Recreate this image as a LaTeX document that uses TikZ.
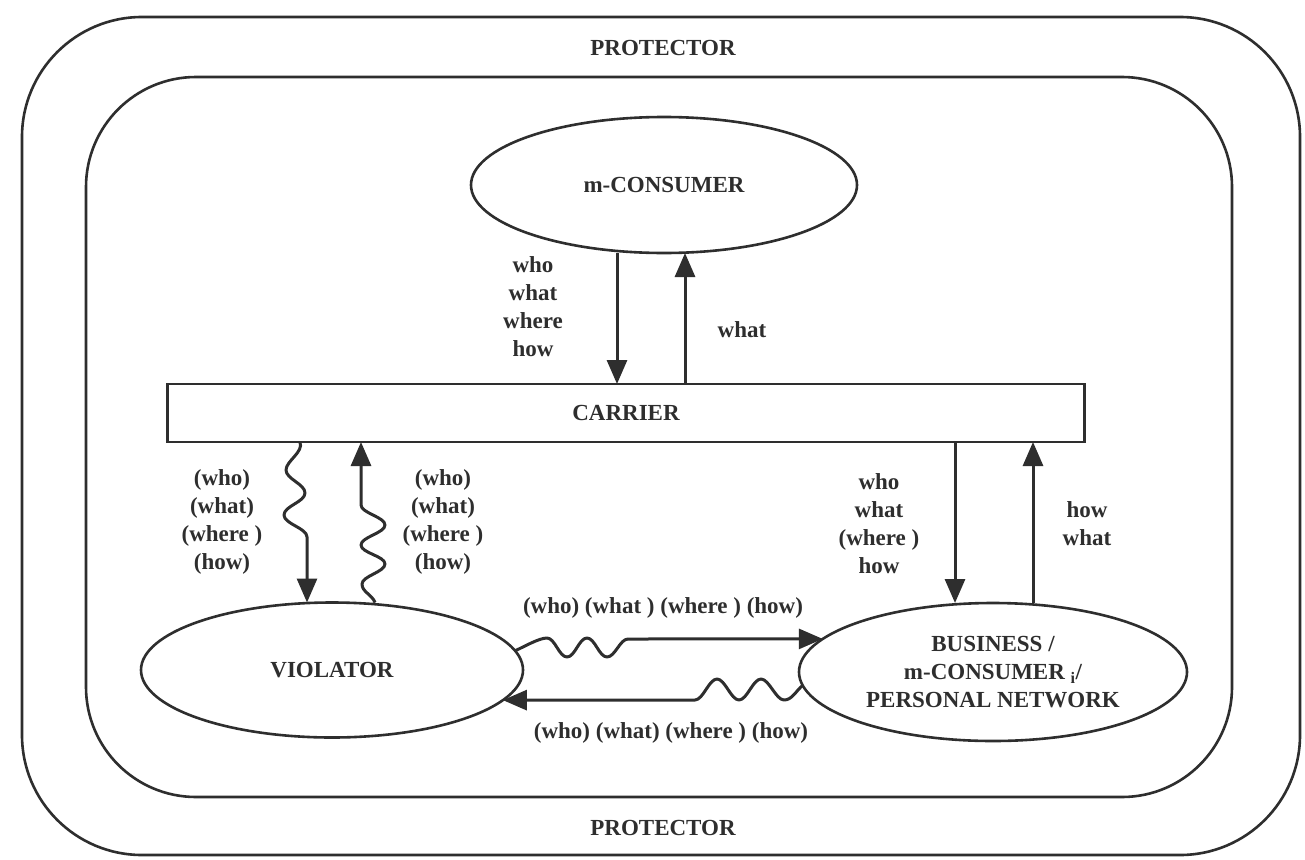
\documentclass[tikz,border=0pt]{standalone}
\usepackage{fontspec}
\setmainfont{Liberation Serif}
\usetikzlibrary{arrows.meta,shapes.geometric}
\definecolor{ink}{HTML}{2E2E2E}
\newcommand\lblfont{\fontsize{23}{28}\selectfont\bfseries}
\begin{document}
\begin{tikzpicture}[x=1pt,y=-1pt,
  frame/.style={draw=ink,line width=2.6pt,rounded corners=#1},
  ell/.style={ellipse,draw=ink,line width=2.6pt,inner sep=0pt,outer sep=0pt,font=\lblfont,align=center,text=ink},
  lbl/.style={font=\lblfont,align=center,inner sep=0pt,text=ink},
  arr/.style={draw=ink,line width=3pt,line join=round,-{Triangle[length=24pt,width=20pt]}},
]
\useasboundingbox (0,0) rectangle (1305,859);
\fill[white] (0,0) rectangle (1305,859);

% frames
\draw[frame=120pt] (22,17) rectangle (1300,855);
\draw[frame=110pt] (86,77) rectangle (1232,797);
\node[lbl] (ptop) at (663,48) {PROTECTOR};
\node[lbl] (pbot) at (663,828) {PROTECTOR};

% main nodes
\node[ell,minimum width=386pt,minimum height=136pt] (mcons) at (664,185) {m-CONSUMER};
\node[draw=ink,line width=2.6pt,minimum width=917pt,minimum height=58pt,font=\lblfont,text=ink,inner sep=0pt,outer sep=0pt] (carrier) at (626,413) {CARRIER};
\node[ell,minimum width=382pt,minimum height=135pt] (viol) at (332,670) {VIOLATOR};
\node[ell,minimum width=388pt,minimum height=138pt] (bus) at (993,672) {BUSINESS /\\m-CONSUMER \textsubscript{i}/\\PERSONAL NETWORK};

% helper coordinates
\coordinate (xa) at (617,0);
\coordinate (xb) at (685,0);
\coordinate (xc) at (300,0);
\coordinate (xs) at (375,0);
\coordinate (xe) at (955,0);
\coordinate (xf) at (1033,0);
% down wave (carrier -> violator)
\coordinate (d1) at (286,470);
\coordinate (d2) at (305,493);
\coordinate (d3) at (284,515);
\coordinate (d4) at (307,537);
% up wave (violator -> carrier)
\coordinate (u1) at (362,584);
\coordinate (u2) at (385,564);
\coordinate (u3) at (361,545);
\coordinate (u4) at (385,525);
\coordinate (u5) at (361,505);
% upper horizontal wave
\coordinate (a1) at (547,638);
\coordinate (a2) at (567,657);
\coordinate (a3) at (587,638);
\coordinate (a4) at (607,657);
\coordinate (a5) at (628,639);
% lower horizontal wave
\coordinate (b1) at (784,700);
\coordinate (b2) at (761,679);
\coordinate (b3) at (739,700);
\coordinate (b4) at (717,679);
\coordinate (b5) at (695,700);

% m-CONSUMER <-> CARRIER
\draw[arr] (xa |- mcons.south) -- (xa |- carrier.north);
\draw[arr] (xb |- carrier.north) -- (xb |- mcons.south);

% CARRIER <-> VIOLATOR (wavy)
\draw[arr] (xc |- carrier.south) .. controls +(4,10) and +(0,-9) .. (d1)
  .. controls +(0,9) and +(0,-9) .. (d2)
  .. controls +(0,9) and +(0,-9) .. (d3)
  .. controls +(0,9) and +(0,-9) .. (d4)
  -- (d4 |- viol.north);
\draw[arr] (xs |- viol.north) .. controls +(-3,-8) and +(0,8) .. (u1)
  .. controls +(0,-8) and +(0,8) .. (u2)
  .. controls +(0,-8) and +(0,8) .. (u3)
  .. controls +(0,-8) and +(0,8) .. (u4)
  .. controls +(0,-8) and +(0,8) .. (u5)
  -- (u5 |- carrier.south);

% CARRIER <-> BUSINESS
\draw[arr] (xe |- carrier.south) -- (xe |- bus.north);
\draw[arr] (xf |- bus.north) -- (xf |- carrier.south);

% VIOLATOR <-> BUSINESS (wavy)
\draw[arr] (viol.6) .. controls +(9,-4) and +(-8,0) .. (a1)
  .. controls +(8,0) and +(-8,0) .. (a2)
  .. controls +(8,0) and +(-8,0) .. (a3)
  .. controls +(8,0) and +(-8,0) .. (a4)
  .. controls +(8,0) and +(-8,0) .. (a5)
  -- (bus.169);
\draw[arr] (bus.184) .. controls +(-7,6) and +(8,0) .. (b1)
  .. controls +(-8,0) and +(8,0) .. (b2)
  .. controls +(-8,0) and +(8,0) .. (b3)
  .. controls +(-8,0) and +(8,0) .. (b4)
  .. controls +(-8,0) and +(8,0) .. (b5)
  -- (viol.350);

% labels
\node[lbl] (l1) at (533,307) {who\\what\\where\\how};
\node[lbl] (l2) at (742,330) {what};
\node[lbl] (l3) at (222,522) {(who)\\(what)\\(where )\\(how)};
\node[lbl] (l4) at (443,522) {(who)\\(what)\\(where )\\(how)};
\node[lbl] (l5) at (879,524) {who\\what\\(where )\\how};
\node[lbl] (l6) at (1087,524) {how\\what};
\node[lbl] (l7) at (663,608) {(who) (what ) (where ) (how)};
\node[lbl] (l8) at (671,733) {(who) (what) (where ) (how)};
\end{tikzpicture}
\end{document}
